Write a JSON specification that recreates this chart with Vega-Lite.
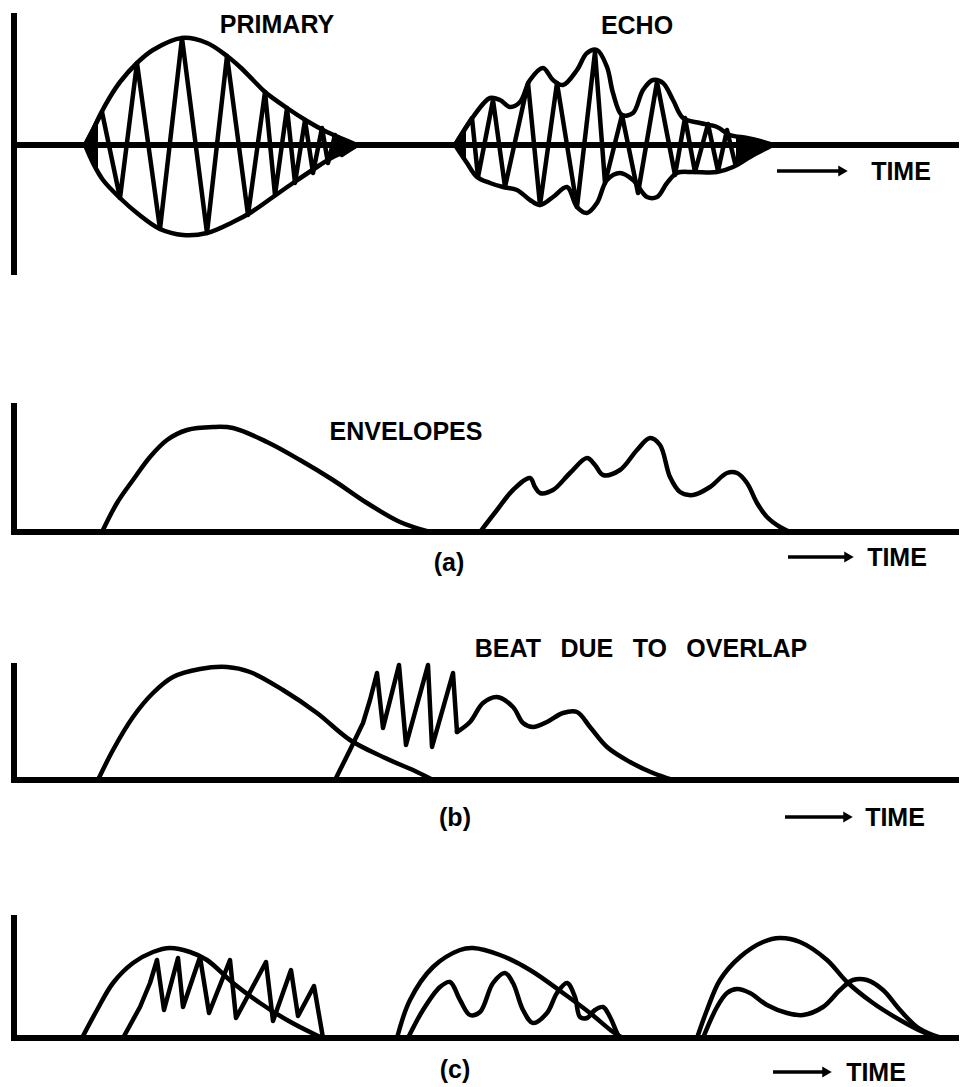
{
"$schema": "https://vega.github.io/schema/vega-lite/v6.json",
"padding": 0,
"background": "white",
"spacing": 40,
"config": {"view": {"stroke": null}},
"datasets": {
"rules": [
{"p":1,"k":"axis","t":0,"t2":0,"a":132,"a2":-130},
{"p":1,"k":"axis","t":-3,"t2":945,"a":0,"a2":0},
{"p":2,"k":"axis","t":0,"t2":0,"a":129,"a2":0},
{"p":2,"k":"axis","t":-3,"t2":945,"a":0,"a2":0},
{"p":3,"k":"axis","t":0,"t2":0,"a":117,"a2":0},
{"p":3,"k":"axis","t":-3,"t2":945,"a":0,"a2":0},
{"p":4,"k":"axis","t":0,"t2":0,"a":123,"a2":0},
{"p":4,"k":"axis","t":-3,"t2":945,"a":0,"a2":0},
{"p":1,"k":"arrow","t":763,"t2":826,"a":-26,"a2":-26},
{"p":2,"k":"arrow","t":774,"t2":832,"a":-25,"a2":-25},
{"p":3,"k":"arrow","t":771,"t2":831,"a":-37,"a2":-37},
{"p":4,"k":"arrow","t":759,"t2":810,"a":-34,"a2":-34}
],
"heads": [
{"p":1,"t":829,"a":-26},
{"p":2,"t":835,"a":-25},
{"p":3,"t":834,"a":-37},
{"p":4,"t":813,"a":-34}
],
"fills": [
{"p":1,"s":"f1","t":71,"a":0,"a2":0},{"p":1,"s":"f1","t":78,"a":13,"a2":-15},{"p":1,"s":"f1","t":84,"a":24,"a2":-27},
{"p":1,"s":"f2","t":318,"a":11,"a2":-12},{"p":1,"s":"f2","t":330,"a":6,"a2":-7},{"p":1,"s":"f2","t":343,"a":0,"a2":0},
{"p":1,"s":"f3","t":441,"a":0,"a2":0},{"p":1,"s":"f3","t":448,"a":11,"a2":-10},{"p":1,"s":"f3","t":452,"a":18,"a2":-16},
{"p":1,"s":"f4","t":722,"a":8,"a2":-17},{"p":1,"s":"f4","t":736,"a":6,"a2":-11},{"p":1,"s":"f4","t":748,"a":3,"a2":-4},{"p":1,"s":"f4","t":759,"a":0,"a2":0}
],
"labels": [
{"p":1,"t":263,"a":121,"text":"PRIMARY"},
{"p":1,"t":623,"a":120,"text":"ECHO"},
{"p":1,"t":887,"a":-26,"text":"TIME"},
{"p":2,"t":392,"a":101,"text":"ENVELOPES"},
{"p":2,"t":435,"a":-30,"text":"(a)"},
{"p":2,"t":883,"a":-25,"text":"TIME"},
{"p":3,"t":627,"a":132,"text":"BEAT\u2002 DUE\u2002 TO\u2002 OVERLAP"},
{"p":3,"t":441,"a":-37,"text":"(b)"},
{"p":3,"t":881,"a":-37,"text":"TIME"},
{"p":4,"t":441,"a":-31,"text":"(c)"},
{"p":4,"t":862,"a":-34,"text":"TIME"}
],
"curves": [
{"p":1,"s":"p1up","k":"smooth","t":71,"a":0},{"p":1,"s":"p1up","k":"smooth","t":79,"a":15},{"p":1,"s":"p1up","k":"smooth","t":86,"a":30},{"p":1,"s":"p1up","k":"smooth","t":96,"a":48},{"p":1,"s":"p1up","k":"smooth","t":106,"a":63},{"p":1,"s":"p1up","k":"smooth","t":123,"a":82},{"p":1,"s":"p1up","k":"smooth","t":139,"a":95},{"p":1,"s":"p1up","k":"smooth","t":168,"a":107},{"p":1,"s":"p1up","k":"smooth","t":193,"a":102},{"p":1,"s":"p1up","k":"smooth","t":213,"a":89},{"p":1,"s":"p1up","k":"smooth","t":226,"a":78},{"p":1,"s":"p1up","k":"smooth","t":239,"a":65},{"p":1,"s":"p1up","k":"smooth","t":251,"a":53},{"p":1,"s":"p1up","k":"smooth","t":273,"a":37},{"p":1,"s":"p1up","k":"smooth","t":293,"a":24},{"p":1,"s":"p1up","k":"smooth","t":311,"a":14},{"p":1,"s":"p1up","k":"smooth","t":329,"a":6},{"p":1,"s":"p1up","k":"smooth","t":343,"a":0},
{"p":1,"s":"p1lo","k":"smooth","t":71,"a":0},{"p":1,"s":"p1lo","k":"smooth","t":79,"a":-18},{"p":1,"s":"p1lo","k":"smooth","t":89,"a":-35},{"p":1,"s":"p1lo","k":"smooth","t":106,"a":-53},{"p":1,"s":"p1lo","k":"smooth","t":123,"a":-68},{"p":1,"s":"p1lo","k":"smooth","t":146,"a":-84},{"p":1,"s":"p1lo","k":"smooth","t":169,"a":-90},{"p":1,"s":"p1lo","k":"smooth","t":193,"a":-88},{"p":1,"s":"p1lo","k":"smooth","t":219,"a":-77},{"p":1,"s":"p1lo","k":"smooth","t":236,"a":-68},{"p":1,"s":"p1lo","k":"smooth","t":259,"a":-52},{"p":1,"s":"p1lo","k":"smooth","t":279,"a":-38},{"p":1,"s":"p1lo","k":"smooth","t":303,"a":-22},{"p":1,"s":"p1lo","k":"smooth","t":319,"a":-12},{"p":1,"s":"p1lo","k":"smooth","t":333,"a":-6},{"p":1,"s":"p1lo","k":"smooth","t":343,"a":0},
{"p":1,"s":"p1car","k":"zig","t":71,"a":0},{"p":1,"s":"p1car","k":"zig","t":88,"a":33},{"p":1,"s":"p1car","k":"zig","t":106,"a":-53},{"p":1,"s":"p1car","k":"zig","t":123,"a":82},{"p":1,"s":"p1car","k":"zig","t":146,"a":-84},{"p":1,"s":"p1car","k":"zig","t":168,"a":107},{"p":1,"s":"p1car","k":"zig","t":193,"a":-88},{"p":1,"s":"p1car","k":"zig","t":213,"a":89},{"p":1,"s":"p1car","k":"zig","t":234,"a":-70},{"p":1,"s":"p1car","k":"zig","t":251,"a":53},{"p":1,"s":"p1car","k":"zig","t":261,"a":-50},{"p":1,"s":"p1car","k":"zig","t":273,"a":37},{"p":1,"s":"p1car","k":"zig","t":281,"a":-38},{"p":1,"s":"p1car","k":"zig","t":291,"a":25},{"p":1,"s":"p1car","k":"zig","t":299,"a":-28},{"p":1,"s":"p1car","k":"zig","t":308,"a":17},{"p":1,"s":"p1car","k":"zig","t":314,"a":-18},{"p":1,"s":"p1car","k":"zig","t":321,"a":10},{"p":1,"s":"p1car","k":"zig","t":328,"a":-10},{"p":1,"s":"p1car","k":"zig","t":343,"a":0},
{"p":1,"s":"e1up","k":"smooth","t":441,"a":0},{"p":1,"s":"e1up","k":"smooth","t":459,"a":28},{"p":1,"s":"e1up","k":"smooth","t":476,"a":47},{"p":1,"s":"e1up","k":"smooth","t":486,"a":45},{"p":1,"s":"e1up","k":"smooth","t":496,"a":38},{"p":1,"s":"e1up","k":"smooth","t":506,"a":43},{"p":1,"s":"e1up","k":"smooth","t":516,"a":65},{"p":1,"s":"e1up","k":"smooth","t":529,"a":77},{"p":1,"s":"e1up","k":"smooth","t":539,"a":65},{"p":1,"s":"e1up","k":"smooth","t":549,"a":60},{"p":1,"s":"e1up","k":"smooth","t":563,"a":75},{"p":1,"s":"e1up","k":"smooth","t":573,"a":92},{"p":1,"s":"e1up","k":"smooth","t":583,"a":95},{"p":1,"s":"e1up","k":"smooth","t":593,"a":78},{"p":1,"s":"e1up","k":"smooth","t":599,"a":52},{"p":1,"s":"e1up","k":"smooth","t":608,"a":30},{"p":1,"s":"e1up","k":"smooth","t":619,"a":32},{"p":1,"s":"e1up","k":"smooth","t":629,"a":55},{"p":1,"s":"e1up","k":"smooth","t":639,"a":65},{"p":1,"s":"e1up","k":"smooth","t":649,"a":62},{"p":1,"s":"e1up","k":"smooth","t":659,"a":45},{"p":1,"s":"e1up","k":"smooth","t":669,"a":27},{"p":1,"s":"e1up","k":"smooth","t":686,"a":22},{"p":1,"s":"e1up","k":"smooth","t":703,"a":18},{"p":1,"s":"e1up","k":"smooth","t":716,"a":10},{"p":1,"s":"e1up","k":"smooth","t":733,"a":7},{"p":1,"s":"e1up","k":"smooth","t":746,"a":4},{"p":1,"s":"e1up","k":"smooth","t":759,"a":0},
{"p":1,"s":"e1lo","k":"smooth","t":441,"a":0},{"p":1,"s":"e1lo","k":"smooth","t":453,"a":-18},{"p":1,"s":"e1lo","k":"smooth","t":463,"a":-32},{"p":1,"s":"e1lo","k":"smooth","t":476,"a":-38},{"p":1,"s":"e1lo","k":"smooth","t":489,"a":-42},{"p":1,"s":"e1lo","k":"smooth","t":503,"a":-45},{"p":1,"s":"e1lo","k":"smooth","t":516,"a":-55},{"p":1,"s":"e1lo","k":"smooth","t":526,"a":-60},{"p":1,"s":"e1lo","k":"smooth","t":539,"a":-52},{"p":1,"s":"e1lo","k":"smooth","t":553,"a":-42},{"p":1,"s":"e1lo","k":"smooth","t":563,"a":-62},{"p":1,"s":"e1lo","k":"smooth","t":573,"a":-68},{"p":1,"s":"e1lo","k":"smooth","t":583,"a":-58},{"p":1,"s":"e1lo","k":"smooth","t":593,"a":-35},{"p":1,"s":"e1lo","k":"smooth","t":606,"a":-28},{"p":1,"s":"e1lo","k":"smooth","t":619,"a":-35},{"p":1,"s":"e1lo","k":"smooth","t":633,"a":-52},{"p":1,"s":"e1lo","k":"smooth","t":643,"a":-52},{"p":1,"s":"e1lo","k":"smooth","t":653,"a":-38},{"p":1,"s":"e1lo","k":"smooth","t":663,"a":-28},{"p":1,"s":"e1lo","k":"smooth","t":679,"a":-27},{"p":1,"s":"e1lo","k":"smooth","t":703,"a":-27},{"p":1,"s":"e1lo","k":"smooth","t":719,"a":-22},{"p":1,"s":"e1lo","k":"smooth","t":736,"a":-12},{"p":1,"s":"e1lo","k":"smooth","t":753,"a":-3},{"p":1,"s":"e1lo","k":"smooth","t":759,"a":0},
{"p":1,"s":"e1car","k":"zig","t":441,"a":0},{"p":1,"s":"e1car","k":"zig","t":458,"a":27},{"p":1,"s":"e1car","k":"zig","t":464,"a":-32},{"p":1,"s":"e1car","k":"zig","t":479,"a":45},{"p":1,"s":"e1car","k":"zig","t":491,"a":-42},{"p":1,"s":"e1car","k":"zig","t":514,"a":62},{"p":1,"s":"e1car","k":"zig","t":526,"a":-60},{"p":1,"s":"e1car","k":"zig","t":543,"a":62},{"p":1,"s":"e1car","k":"zig","t":563,"a":-62},{"p":1,"s":"e1car","k":"zig","t":581,"a":93},{"p":1,"s":"e1car","k":"zig","t":591,"a":-38},{"p":1,"s":"e1car","k":"zig","t":608,"a":30},{"p":1,"s":"e1car","k":"zig","t":624,"a":-48},{"p":1,"s":"e1car","k":"zig","t":643,"a":63},{"p":1,"s":"e1car","k":"zig","t":661,"a":-30},{"p":1,"s":"e1car","k":"zig","t":671,"a":27},{"p":1,"s":"e1car","k":"zig","t":681,"a":-27},{"p":1,"s":"e1car","k":"zig","t":694,"a":21},{"p":1,"s":"e1car","k":"zig","t":704,"a":-26},{"p":1,"s":"e1car","k":"zig","t":713,"a":15},{"p":1,"s":"e1car","k":"zig","t":721,"a":-18},{"p":1,"s":"e1car","k":"zig","t":746,"a":0},
{"p":2,"s":"a1","k":"smooth","t":88,"a":0},{"p":2,"s":"a1","k":"smooth","t":103,"a":29},{"p":2,"s":"a1","k":"smooth","t":119,"a":52},{"p":2,"s":"a1","k":"smooth","t":136,"a":75},{"p":2,"s":"a1","k":"smooth","t":153,"a":92},{"p":2,"s":"a1","k":"smooth","t":173,"a":102},{"p":2,"s":"a1","k":"smooth","t":199,"a":105},{"p":2,"s":"a1","k":"smooth","t":219,"a":104},{"p":2,"s":"a1","k":"smooth","t":253,"a":90},{"p":2,"s":"a1","k":"smooth","t":286,"a":72},{"p":2,"s":"a1","k":"smooth","t":319,"a":52},{"p":2,"s":"a1","k":"smooth","t":353,"a":29},{"p":2,"s":"a1","k":"smooth","t":386,"a":10},{"p":2,"s":"a1","k":"smooth","t":416,"a":0},
{"p":2,"s":"a2","k":"smooth","t":466,"a":0},{"p":2,"s":"a2","k":"smooth","t":483,"a":22},{"p":2,"s":"a2","k":"smooth","t":499,"a":42},{"p":2,"s":"a2","k":"smooth","t":516,"a":54},{"p":2,"s":"a2","k":"smooth","t":521,"a":45},{"p":2,"s":"a2","k":"smooth","t":526,"a":39},{"p":2,"s":"a2","k":"smooth","t":539,"a":42},{"p":2,"s":"a2","k":"smooth","t":556,"a":59},{"p":2,"s":"a2","k":"smooth","t":573,"a":74},{"p":2,"s":"a2","k":"smooth","t":581,"a":67},{"p":2,"s":"a2","k":"smooth","t":589,"a":57},{"p":2,"s":"a2","k":"smooth","t":606,"a":62},{"p":2,"s":"a2","k":"smooth","t":623,"a":82},{"p":2,"s":"a2","k":"smooth","t":636,"a":94},{"p":2,"s":"a2","k":"smooth","t":646,"a":87},{"p":2,"s":"a2","k":"smooth","t":656,"a":55},{"p":2,"s":"a2","k":"smooth","t":666,"a":40},{"p":2,"s":"a2","k":"smooth","t":679,"a":37},{"p":2,"s":"a2","k":"smooth","t":696,"a":45},{"p":2,"s":"a2","k":"smooth","t":713,"a":59},{"p":2,"s":"a2","k":"smooth","t":723,"a":59},{"p":2,"s":"a2","k":"smooth","t":733,"a":49},{"p":2,"s":"a2","k":"smooth","t":743,"a":29},{"p":2,"s":"a2","k":"smooth","t":753,"a":15},{"p":2,"s":"a2","k":"smooth","t":766,"a":5},{"p":2,"s":"a2","k":"smooth","t":776,"a":0},
{"p":3,"s":"b1","k":"smooth","t":84,"a":0},{"p":3,"s":"b1","k":"smooth","t":99,"a":30},{"p":3,"s":"b1","k":"smooth","t":119,"a":63},{"p":3,"s":"b1","k":"smooth","t":139,"a":87},{"p":3,"s":"b1","k":"smooth","t":159,"a":103},{"p":3,"s":"b1","k":"smooth","t":186,"a":111},{"p":3,"s":"b1","k":"smooth","t":213,"a":113},{"p":3,"s":"b1","k":"smooth","t":236,"a":108},{"p":3,"s":"b1","k":"smooth","t":269,"a":90},{"p":3,"s":"b1","k":"smooth","t":303,"a":67},{"p":3,"s":"b1","k":"smooth","t":336,"a":40},{"p":3,"s":"b1","k":"smooth","t":369,"a":23},{"p":3,"s":"b1","k":"smooth","t":403,"a":8},{"p":3,"s":"b1","k":"smooth","t":419,"a":0},
{"p":3,"s":"b2","k":"zig","t":321,"a":0},{"p":3,"s":"b2","k":"zig","t":336,"a":30},{"p":3,"s":"b2","k":"zig","t":349,"a":57},{"p":3,"s":"b2","k":"zig","t":356,"a":80},{"p":3,"s":"b2","k":"zig","t":363,"a":107},{"p":3,"s":"b2","k":"zig","t":369,"a":52},{"p":3,"s":"b2","k":"zig","t":385,"a":115},{"p":3,"s":"b2","k":"zig","t":392,"a":35},{"p":3,"s":"b2","k":"zig","t":414,"a":115},{"p":3,"s":"b2","k":"zig","t":418,"a":33},{"p":3,"s":"b2","k":"zig","t":439,"a":107},{"p":3,"s":"b2","k":"zig","t":443,"a":48},
{"p":3,"s":"b3","k":"smooth","t":443,"a":48},{"p":3,"s":"b3","k":"smooth","t":456,"a":58},{"p":3,"s":"b3","k":"smooth","t":469,"a":77},{"p":3,"s":"b3","k":"smooth","t":483,"a":83},{"p":3,"s":"b3","k":"smooth","t":499,"a":73},{"p":3,"s":"b3","k":"smooth","t":509,"a":57},{"p":3,"s":"b3","k":"smooth","t":519,"a":53},{"p":3,"s":"b3","k":"smooth","t":533,"a":58},{"p":3,"s":"b3","k":"smooth","t":549,"a":67},{"p":3,"s":"b3","k":"smooth","t":563,"a":68},{"p":3,"s":"b3","k":"smooth","t":576,"a":53},{"p":3,"s":"b3","k":"smooth","t":593,"a":33},{"p":3,"s":"b3","k":"smooth","t":616,"a":18},{"p":3,"s":"b3","k":"smooth","t":639,"a":7},{"p":3,"s":"b3","k":"smooth","t":659,"a":0},
{"p":4,"s":"c1","k":"smooth","t":68,"a":0},{"p":4,"s":"c1","k":"smooth","t":83,"a":28},{"p":4,"s":"c1","k":"smooth","t":99,"a":55},{"p":4,"s":"c1","k":"smooth","t":119,"a":75},{"p":4,"s":"c1","k":"smooth","t":139,"a":86},{"p":4,"s":"c1","k":"smooth","t":156,"a":90},{"p":4,"s":"c1","k":"smooth","t":176,"a":86},{"p":4,"s":"c1","k":"smooth","t":193,"a":78},{"p":4,"s":"c1","k":"smooth","t":219,"a":55},{"p":4,"s":"c1","k":"smooth","t":246,"a":35},{"p":4,"s":"c1","k":"smooth","t":273,"a":18},{"p":4,"s":"c1","k":"smooth","t":300,"a":4},{"p":4,"s":"c1","k":"smooth","t":309,"a":0},
{"p":4,"s":"c2","k":"zig","t":109,"a":0},{"p":4,"s":"c2","k":"zig","t":126,"a":31},{"p":4,"s":"c2","k":"zig","t":136,"a":55},{"p":4,"s":"c2","k":"zig","t":143,"a":78},{"p":4,"s":"c2","k":"zig","t":150,"a":28},{"p":4,"s":"c2","k":"zig","t":164,"a":80},{"p":4,"s":"c2","k":"zig","t":169,"a":31},{"p":4,"s":"c2","k":"zig","t":186,"a":81},{"p":4,"s":"c2","k":"zig","t":195,"a":25},{"p":4,"s":"c2","k":"zig","t":216,"a":78},{"p":4,"s":"c2","k":"zig","t":222,"a":20},{"p":4,"s":"c2","k":"zig","t":252,"a":76},{"p":4,"s":"c2","k":"zig","t":259,"a":17},{"p":4,"s":"c2","k":"zig","t":277,"a":68},{"p":4,"s":"c2","k":"zig","t":284,"a":22},{"p":4,"s":"c2","k":"zig","t":300,"a":52},{"p":4,"s":"c2","k":"zig","t":309,"a":0},
{"p":4,"s":"c3","k":"smooth","t":383,"a":0},{"p":4,"s":"c3","k":"smooth","t":396,"a":38},{"p":4,"s":"c3","k":"smooth","t":419,"a":71},{"p":4,"s":"c3","k":"smooth","t":446,"a":88},{"p":4,"s":"c3","k":"smooth","t":459,"a":90},{"p":4,"s":"c3","k":"smooth","t":486,"a":83},{"p":4,"s":"c3","k":"smooth","t":516,"a":68},{"p":4,"s":"c3","k":"smooth","t":549,"a":45},{"p":4,"s":"c3","k":"smooth","t":576,"a":25},{"p":4,"s":"c3","k":"smooth","t":599,"a":6},{"p":4,"s":"c3","k":"smooth","t":609,"a":0},
{"p":4,"s":"c4","k":"smooth","t":394,"a":0},{"p":4,"s":"c4","k":"smooth","t":409,"a":28},{"p":4,"s":"c4","k":"smooth","t":426,"a":51},{"p":4,"s":"c4","k":"smooth","t":436,"a":56},{"p":4,"s":"c4","k":"smooth","t":446,"a":38},{"p":4,"s":"c4","k":"smooth","t":456,"a":23},{"p":4,"s":"c4","k":"smooth","t":466,"a":26},{"p":4,"s":"c4","k":"smooth","t":479,"a":55},{"p":4,"s":"c4","k":"smooth","t":491,"a":65},{"p":4,"s":"c4","k":"smooth","t":499,"a":55},{"p":4,"s":"c4","k":"smooth","t":509,"a":28},{"p":4,"s":"c4","k":"smooth","t":519,"a":15},{"p":4,"s":"c4","k":"smooth","t":533,"a":25},{"p":4,"s":"c4","k":"smooth","t":543,"a":45},{"p":4,"s":"c4","k":"smooth","t":553,"a":55},{"p":4,"s":"c4","k":"smooth","t":561,"a":41},{"p":4,"s":"c4","k":"smooth","t":566,"a":21},{"p":4,"s":"c4","k":"smooth","t":573,"a":20},{"p":4,"s":"c4","k":"smooth","t":581,"a":28},{"p":4,"s":"c4","k":"smooth","t":589,"a":31},{"p":4,"s":"c4","k":"smooth","t":596,"a":21},{"p":4,"s":"c4","k":"smooth","t":603,"a":5},{"p":4,"s":"c4","k":"smooth","t":606,"a":0},
{"p":4,"s":"c5","k":"smooth","t":683,"a":0},{"p":4,"s":"c5","k":"smooth","t":693,"a":28},{"p":4,"s":"c5","k":"smooth","t":706,"a":58},{"p":4,"s":"c5","k":"smooth","t":726,"a":81},{"p":4,"s":"c5","k":"smooth","t":749,"a":96},{"p":4,"s":"c5","k":"smooth","t":766,"a":100},{"p":4,"s":"c5","k":"smooth","t":786,"a":96},{"p":4,"s":"c5","k":"smooth","t":813,"a":78},{"p":4,"s":"c5","k":"smooth","t":833,"a":56},{"p":4,"s":"c5","k":"smooth","t":859,"a":35},{"p":4,"s":"c5","k":"smooth","t":886,"a":18},{"p":4,"s":"c5","k":"smooth","t":909,"a":6},{"p":4,"s":"c5","k":"smooth","t":926,"a":0},
{"p":4,"s":"c6","k":"smooth","t":689,"a":0},{"p":4,"s":"c6","k":"smooth","t":703,"a":31},{"p":4,"s":"c6","k":"smooth","t":713,"a":45},{"p":4,"s":"c6","k":"smooth","t":723,"a":49},{"p":4,"s":"c6","k":"smooth","t":736,"a":45},{"p":4,"s":"c6","k":"smooth","t":753,"a":33},{"p":4,"s":"c6","k":"smooth","t":773,"a":25},{"p":4,"s":"c6","k":"smooth","t":789,"a":23},{"p":4,"s":"c6","k":"smooth","t":809,"a":31},{"p":4,"s":"c6","k":"smooth","t":826,"a":48},{"p":4,"s":"c6","k":"smooth","t":839,"a":58},{"p":4,"s":"c6","k":"smooth","t":853,"a":58},{"p":4,"s":"c6","k":"smooth","t":869,"a":48},{"p":4,"s":"c6","k":"smooth","t":886,"a":28},{"p":4,"s":"c6","k":"smooth","t":903,"a":11},{"p":4,"s":"c6","k":"smooth","t":919,"a":3},{"p":4,"s":"c6","k":"smooth","t":929,"a":0}
]
},
"vconcat": [
{
"width": 961, "height": 350,
"encoding": {
"x": {"field": "t", "type": "quantitative", "scale": {"domain": [-14, 947], "nice": false, "zero": false}, "axis": null},
"y": {"field": "a", "type": "quantitative", "scale": {"domain": [-205, 145], "nice": false, "zero": false}, "axis": null}
},
"layer": [
{"data": {"name": "fills"}, "transform": [{"filter": "datum.p == 1"}], "mark": {"type": "area", "interpolate": "monotone", "color": "black", "opacity": 1}, "encoding": {"y2": {"field": "a2"}, "detail": {"field": "s"}}},
{"data": {"name": "rules"}, "transform": [{"filter": "datum.p == 1 && datum.k == 'axis'"}], "mark": {"type": "rule", "strokeWidth": 6, "color": "black"}, "encoding": {"x2": {"field": "t2"}, "y2": {"field": "a2"}}},
{"data": {"name": "rules"}, "transform": [{"filter": "datum.p == 1 && datum.k == 'arrow'"}], "mark": {"type": "rule", "strokeWidth": 3.5, "color": "black"}, "encoding": {"x2": {"field": "t2"}, "y2": {"field": "a2"}}},
{"data": {"name": "heads"}, "transform": [{"filter": "datum.p == 1"}], "mark": {"type": "point", "shape": "triangle-right", "filled": true, "size": 120, "color": "black", "opacity": 1}},
{"data": {"name": "curves"}, "transform": [{"filter": "datum.p == 1 && datum.k == 'smooth'"}], "mark": {"type": "line", "interpolate": "catmull-rom", "strokeWidth": 4.5, "color": "black", "strokeCap": "round"}, "encoding": {"detail": {"field": "s"}}},
{"data": {"name": "curves"}, "transform": [{"filter": "datum.p == 1 && datum.k == 'zig'"}], "mark": {"type": "line", "interpolate": "linear", "strokeWidth": 4.5, "color": "black", "strokeJoin": "round", "strokeCap": "round"}, "encoding": {"detail": {"field": "s"}}},
{"data": {"name": "labels"}, "transform": [{"filter": "datum.p == 1"}], "mark": {"type": "text", "font": "Liberation Sans", "fontWeight": "bold", "fontSize": 25, "baseline": "alphabetic", "dy": 9, "align": "center", "color": "black"}, "encoding": {"text": {"field": "text"}}}
]
},
{
"width": 961, "height": 200,
"encoding": {
"x": {"field": "t", "type": "quantitative", "scale": {"domain": [-14, 947], "nice": false, "zero": false}, "axis": null},
"y": {"field": "a", "type": "quantitative", "scale": {"domain": [-58, 142], "nice": false, "zero": false}, "axis": null}
},
"layer": [
{"data": {"name": "rules"}, "transform": [{"filter": "datum.p == 2 && datum.k == 'axis'"}], "mark": {"type": "rule", "strokeWidth": 6, "color": "black"}, "encoding": {"x2": {"field": "t2"}, "y2": {"field": "a2"}}},
{"data": {"name": "rules"}, "transform": [{"filter": "datum.p == 2 && datum.k == 'arrow'"}], "mark": {"type": "rule", "strokeWidth": 3.5, "color": "black"}, "encoding": {"x2": {"field": "t2"}, "y2": {"field": "a2"}}},
{"data": {"name": "heads"}, "transform": [{"filter": "datum.p == 2"}], "mark": {"type": "point", "shape": "triangle-right", "filled": true, "size": 120, "color": "black", "opacity": 1}},
{"data": {"name": "curves"}, "transform": [{"filter": "datum.p == 2 && datum.k == 'smooth'"}], "mark": {"type": "line", "interpolate": "catmull-rom", "strokeWidth": 4.5, "color": "black", "strokeCap": "round"}, "encoding": {"detail": {"field": "s"}}},
{"data": {"name": "labels"}, "transform": [{"filter": "datum.p == 2"}], "mark": {"type": "text", "font": "Liberation Sans", "fontWeight": "bold", "fontSize": 25, "baseline": "alphabetic", "dy": 9, "align": "center", "color": "black"}, "encoding": {"text": {"field": "text"}}}
]
},
{
"width": 961, "height": 210,
"encoding": {
"x": {"field": "t", "type": "quantitative", "scale": {"domain": [-14, 947], "nice": false, "zero": false}, "axis": null},
"y": {"field": "a", "type": "quantitative", "scale": {"domain": [-60, 150], "nice": false, "zero": false}, "axis": null}
},
"layer": [
{"data": {"name": "rules"}, "transform": [{"filter": "datum.p == 3 && datum.k == 'axis'"}], "mark": {"type": "rule", "strokeWidth": 6, "color": "black"}, "encoding": {"x2": {"field": "t2"}, "y2": {"field": "a2"}}},
{"data": {"name": "rules"}, "transform": [{"filter": "datum.p == 3 && datum.k == 'arrow'"}], "mark": {"type": "rule", "strokeWidth": 3.5, "color": "black"}, "encoding": {"x2": {"field": "t2"}, "y2": {"field": "a2"}}},
{"data": {"name": "heads"}, "transform": [{"filter": "datum.p == 3"}], "mark": {"type": "point", "shape": "triangle-right", "filled": true, "size": 120, "color": "black", "opacity": 1}},
{"data": {"name": "curves"}, "transform": [{"filter": "datum.p == 3 && datum.k == 'smooth'"}], "mark": {"type": "line", "interpolate": "catmull-rom", "strokeWidth": 4.5, "color": "black", "strokeCap": "round"}, "encoding": {"detail": {"field": "s"}}},
{"data": {"name": "curves"}, "transform": [{"filter": "datum.p == 3 && datum.k == 'zig'"}], "mark": {"type": "line", "interpolate": "linear", "strokeWidth": 4.5, "color": "black", "strokeJoin": "round", "strokeCap": "round"}, "encoding": {"detail": {"field": "s"}}},
{"data": {"name": "labels"}, "transform": [{"filter": "datum.p == 3"}], "mark": {"type": "text", "font": "Liberation Sans", "fontWeight": "bold", "fontSize": 25, "baseline": "alphabetic", "dy": 9, "align": "center", "color": "black"}, "encoding": {"text": {"field": "text"}}}
]
},
{
"width": 961, "height": 207,
"encoding": {
"x": {"field": "t", "type": "quantitative", "scale": {"domain": [-14, 947], "nice": false, "zero": false}, "axis": null},
"y": {"field": "a", "type": "quantitative", "scale": {"domain": [-49, 158], "nice": false, "zero": false}, "axis": null}
},
"layer": [
{"data": {"name": "rules"}, "transform": [{"filter": "datum.p == 4 && datum.k == 'axis'"}], "mark": {"type": "rule", "strokeWidth": 6, "color": "black"}, "encoding": {"x2": {"field": "t2"}, "y2": {"field": "a2"}}},
{"data": {"name": "rules"}, "transform": [{"filter": "datum.p == 4 && datum.k == 'arrow'"}], "mark": {"type": "rule", "strokeWidth": 3.5, "color": "black"}, "encoding": {"x2": {"field": "t2"}, "y2": {"field": "a2"}}},
{"data": {"name": "heads"}, "transform": [{"filter": "datum.p == 4"}], "mark": {"type": "point", "shape": "triangle-right", "filled": true, "size": 120, "color": "black", "opacity": 1}},
{"data": {"name": "curves"}, "transform": [{"filter": "datum.p == 4 && datum.k == 'smooth'"}], "mark": {"type": "line", "interpolate": "catmull-rom", "strokeWidth": 4.5, "color": "black", "strokeCap": "round"}, "encoding": {"detail": {"field": "s"}}},
{"data": {"name": "curves"}, "transform": [{"filter": "datum.p == 4 && datum.k == 'zig'"}], "mark": {"type": "line", "interpolate": "linear", "strokeWidth": 4.5, "color": "black", "strokeJoin": "round", "strokeCap": "round"}, "encoding": {"detail": {"field": "s"}}},
{"data": {"name": "labels"}, "transform": [{"filter": "datum.p == 4"}], "mark": {"type": "text", "font": "Liberation Sans", "fontWeight": "bold", "fontSize": 25, "baseline": "alphabetic", "dy": 9, "align": "center", "color": "black"}, "encoding": {"text": {"field": "text"}}}
]
}
]
}
